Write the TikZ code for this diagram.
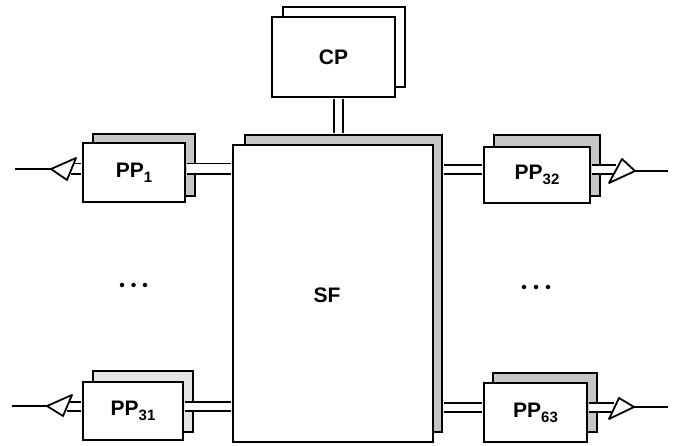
\documentclass[tikz,border=0pt]{standalone}
\usepackage{fontspec}
\setmainfont{Liberation Sans}
\begin{document}
\begin{tikzpicture}[x=1pt,y=-1pt,
  box/.style={draw,line width=1.8pt,fill=white,inner sep=0pt,font=\fontsize{21}{23}\selectfont\bfseries},
  backbox/.style={draw,line width=1.8pt,inner sep=0pt},
  tex/.style={fill=gray!45},
  dbl/.style={draw,line width=1.8pt,double=white,double distance=7pt,shorten <=0.8pt,shorten >=0.8pt},
  dblw/.style={draw,line width=1.8pt,double=white,double distance=9pt,shorten <=0.8pt,shorten >=0.8pt},
  wire/.style={draw,line width=1.8pt},
  tri/.style={draw,line width=1.8pt,fill=white,line join=round},
  dot/.style={circle,fill=black,inner sep=0pt,minimum size=4.5pt}]
\useasboundingbox (0,0) rectangle (675,446);
\newcommand{\sub}[1]{\raisebox{-5pt}{\fontsize{15}{15}\selectfont\bfseries #1}}
% back boxes
\node[backbox,minimum width=122pt,minimum height=80pt] (cpb) at (344,47) {};
\node[backbox,tex,minimum width=197pt,minimum height=297pt] (sfb) at (343.5,283.5) {};
\node[backbox,tex,minimum width=102pt,minimum height=62pt] (pp1b) at (144,165) {};
\node[backbox,tex,minimum width=106pt,minimum height=61pt] (pp32b) at (547,165.5) {};
\node[backbox,fill=gray!20,minimum width=100pt,minimum height=61pt] (pp31b) at (143,401.5) {};
\node[backbox,tex,minimum width=104pt,minimum height=59pt] (pp63b) at (545,402.5) {};
% front boxes
\node[box,minimum width=123pt,minimum height=80pt] (cp) at (333.5,57) {CP};
\node[box,minimum width=200pt,minimum height=297pt] (sf) at (333,293.5) {};
\node[font=\fontsize{21}{23}\selectfont\bfseries] (sft) at (327,295) {SF};
\node[box,minimum width=102pt,minimum height=59pt] (pp1) at (134,172.5) {PP\sub{1}};
\node[box,minimum width=106pt,minimum height=56pt] (pp32) at (537,175) {PP\sub{32}};
\node[box,minimum width=100pt,minimum height=58pt] (pp31) at (133,411) {PP\sub{31}};
\node[box,minimum width=103pt,minimum height=59pt] (pp63) at (535.5,412.5) {PP\sub{63}};
% triangle corners and free ends
\coordinate (t1a) at (51,169); \coordinate (t1b) at (76,158); \coordinate (t1c) at (67,180);
\coordinate (t31a) at (47,406); \coordinate (t31b) at (72,395); \coordinate (t31c) at (63,416);
\coordinate (t32a) at (635,171); \coordinate (t32b) at (622,159); \coordinate (t32c) at (609,183);
\coordinate (t63a) at (634,407); \coordinate (t63b) at (619,398); \coordinate (t63c) at (609,419);
\coordinate (e1) at (15,169); \coordinate (e31) at (12,406);
\coordinate (e32) at (668,171); \coordinate (e63) at (668,407);
\coordinate (m1) at (70,169); \coordinate (m31) at (66,406.5);
\coordinate (m32) at (617,169.5); \coordinate (m63) at (615,407.5);
% connectors
\draw[dbl] (cp.south -| 338.5,0) -- (sfb.north -| 338.5,0);
\draw[dblw] (pp1.east |- 0,169) -- (sf.west |- 0,169);
\draw[dblw] (pp1.west |- 0,169) -- (m1);
\draw[dbl] (pp31.east |- 0,406.5) -- (sf.west |- 0,406.5);
\draw[dbl] (pp31.west |- 0,406.5) -- (m31);
\draw[dbl] (sfb.east |- 0,169.5) -- (pp32.west |- 0,169.5);
\draw[dbl] (pp32.east |- 0,169.5) -- (m32);
\draw[dbl] (sfb.east |- 0,407.5) -- (pp63.west |- 0,407.5);
\draw[dbl] (pp63.east |- 0,407.5) -- (m63);
% triangles and free wires
\draw[wire] (e1) -- (t1a);
\draw[tri] (t1a) -- (t1b) -- (t1c) -- cycle;
\draw[wire] (e31) -- (t31a);
\draw[tri] (t31a) -- (t31b) -- (t31c) -- cycle;
\draw[wire] (t32a) -- (e32);
\draw[tri] (t32a) -- (t32b) -- (t32c) -- cycle;
\draw[wire] (t63a) -- (e63);
\draw[tri] (t63a) -- (t63b) -- (t63c) -- cycle;
% ellipsis dots
\node[dot] (dl1) at (122,285) {}; \node[dot] (dl2) at (133.5,285) {}; \node[dot] (dl3) at (145,285) {};
\node[dot] (dr1) at (524,287) {}; \node[dot] (dr2) at (536,287) {}; \node[dot] (dr3) at (548,287) {};
\end{tikzpicture}
\end{document}
